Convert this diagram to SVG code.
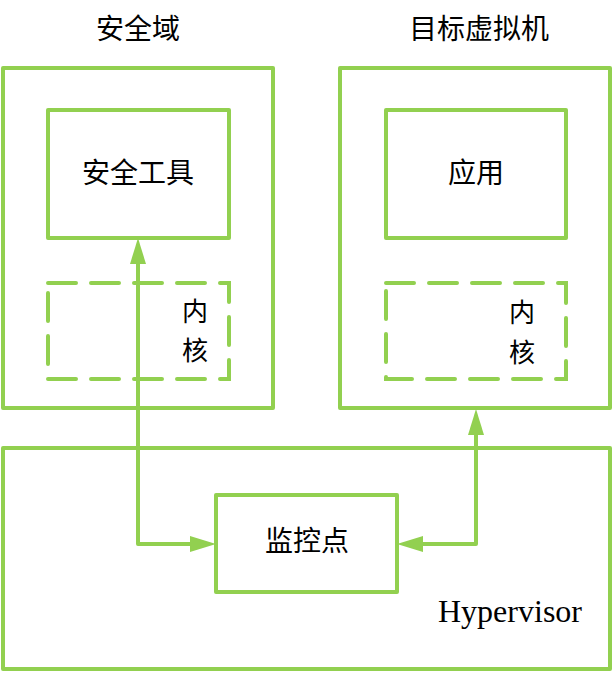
<svg xmlns="http://www.w3.org/2000/svg" width="614" height="674" viewBox="0 0 614 674">
<defs>
<style>
.box{fill:none;stroke:#92D050;stroke-width:4;stroke-linejoin:round}
.dash{fill:none;stroke:#92D050;stroke-width:4;stroke-dasharray:28 15;stroke-linecap:round}
.conn{fill:none;stroke:#92D050;stroke-width:4;stroke-linejoin:round}
.t{font-family:"Liberation Serif","Noto Sans CJK SC",serif;font-size:28px;fill:#000;text-anchor:middle;dominant-baseline:central}
.k{font-family:"Liberation Serif","Noto Sans CJK SC",serif;font-size:26px;fill:#000;text-anchor:middle;dominant-baseline:central}
.m{font-family:"Liberation Serif",serif;font-size:32px;fill:#000}
</style>
<marker id="ah" markerUnits="userSpaceOnUse" markerWidth="26" markerHeight="16" refX="0" refY="8" orient="auto-start-reverse" viewBox="0 0 26 16">
<path d="M0,0 L26,8 L0,16 z" fill="#92D050"/>
</marker>
</defs>
<rect width="614" height="674" fill="#fff"/>
<g id="security-domain">
<text class="t" x="138" y="29">安全域</text>
<rect class="box" x="3" y="68" width="270" height="340"/>
</g>
<g id="security-tool">
<rect class="box" x="48" y="110" width="181" height="128"/>
<text class="t" x="138" y="173">安全工具</text>
</g>
<g id="kernel-left">
<rect class="dash" x="48" y="283" width="181" height="96"/>
<text class="k" x="195" y="312">内</text>
<text class="k" x="195" y="351">核</text>
</g>
<g id="target-vm">
<text class="t" x="479" y="29">目标虚拟机</text>
<rect class="box" x="340" y="68" width="270" height="340"/>
</g>
<g id="app">
<rect class="box" x="386" y="110" width="180" height="128"/>
<text class="t" x="476" y="173">应用</text>
</g>
<g id="kernel-right">
<rect class="dash" x="386" y="283" width="180" height="96"/>
<text class="k" x="522" y="313">内</text>
<text class="k" x="522" y="353">核</text>
</g>
<g id="hypervisor">
<rect class="box" x="3" y="448" width="607" height="221"/>
<text class="m" x="438" y="622" textLength="144" lengthAdjust="spacingAndGlyphs">Hypervisor</text>
</g>
<g id="monitor">
<rect class="box" x="216" y="495" width="181" height="97"/>
<text class="t" x="307" y="541">监控点</text>
</g>
<g id="connectors">
<path class="conn" d="M138,264 L138,544 L190,544" marker-start="url(#ah)" marker-end="url(#ah)"/>
<path class="conn" d="M476,435 L476,544 L423,544" marker-start="url(#ah)" marker-end="url(#ah)"/>
</g>
</svg>
